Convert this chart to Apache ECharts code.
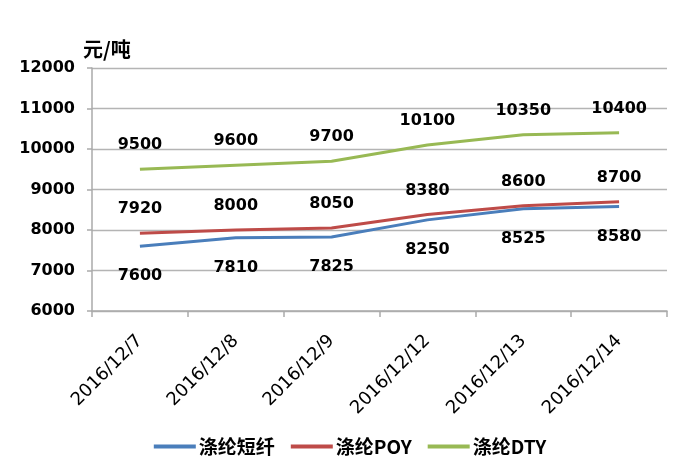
<!DOCTYPE html>
<html><head><meta charset="utf-8">
<script src="https://cdn.jsdelivr.net/npm/echarts@6/dist/echarts.min.js"></script>
<style>html,body{margin:0;padding:0;background:#fff}#c{width:700px;height:474px}</style>
</head><body><div id="c"></div>
<script>
const categories = ['2016/12/7','2016/12/8','2016/12/9','2016/12/12','2016/12/13','2016/12/14'];
const staple = [7600,7810,7825,8250,8525,8580];
const poy = [7920,8000,8050,8380,8600,8700];
const dty = [9500,9600,9700,10100,10350,10400];
const seriesNames = ['涤纶短纤','涤纶POY','涤纶DTY'];
const unit = '元/吨';

const chart = echarts.init(document.getElementById('c'));
const lblFont = {fontFamily:'DejaVu Sans, sans-serif', fontWeight:'bold', fontSize:16, color:'#000'};
function mk(name, data, color, pos, dist){
  return {name, type:'line', data, symbol:'circle', symbolSize:0.1, showSymbol:true, smooth:false,
    lineStyle:{color, width:3}, itemStyle:{color},
    label:{show:true, position:pos, distance:dist, ...lblFont}};
}
chart.setOption({
  animation:false,
  title:{text:unit, left:78, top:34, textStyle:{fontFamily:'Noto Sans CJK SC', fontWeight:'bold', fontSize:20, color:'#000'}},
  grid:{left:92, right:33, top:68, bottom:163},
  legend:{bottom:13, left:'center', itemWidth:42, itemHeight:4, itemGap:16,
    icon:'rect', textStyle:{fontFamily:'Noto Sans CJK SC', fontWeight:'bold', fontSize:19, color:'#000', padding:[0,0,0,-2]},
    data:seriesNames},
  xAxis:{type:'category', data:categories, boundaryGap:true,
    axisLine:{lineStyle:{color:'#aaa', width:1.5}},
    axisTick:{show:true, alignWithLabel:false, length:6, lineStyle:{color:'#aaa', width:1.5}},
    axisLabel:{rotate:45, margin:27, fontFamily:'DejaVu Sans, sans-serif', fontSize:18, color:'#000'},
    splitLine:{show:false}},
  yAxis:{type:'value', min:6000, max:12000, interval:1000,
    axisLine:{show:true, lineStyle:{color:'#aaa', width:1.5}},
    axisTick:{show:true, length:5, lineStyle:{color:'#aaa', width:1.5}},
    axisLabel:{margin:17, formatter:(v)=>String(v), ...lblFont},
    splitLine:{lineStyle:{color:'#b4b4b4', width:1.3}}},
  series:[
    mk(seriesNames[0], staple, '#4A7EBB', 'bottom', 22),
    mk(seriesNames[1], poy, '#BE4B48', 'top', 16),
    mk(seriesNames[2], dty, '#98B954', 'top', 16)
  ]
});
</script></body></html>
